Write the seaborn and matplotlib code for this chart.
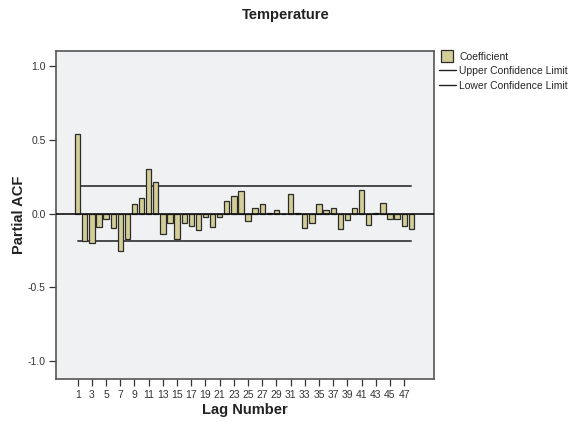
import numpy as np
import pandas as pd
import matplotlib
matplotlib.use("Agg")
import matplotlib.pyplot as plt
from matplotlib.lines import Line2D
import seaborn as sns

# Partial autocorrelation of the temperature series, lags 1..48
lags = list(range(1, 49))
pacf = [0.542, -0.186, -0.197, -0.093, -0.034, -0.095, -0.256, -0.170,
        0.068, 0.109, 0.302, 0.215, -0.138, -0.066, -0.172, -0.061,
        -0.084, -0.111, -0.023, -0.093, -0.023, 0.088, 0.120, 0.152,
        -0.050, 0.039, 0.066, 0.004, 0.025, -0.005, 0.132, 0.004,
        -0.100, -0.063, 0.066, 0.025, 0.039, -0.104, -0.043, 0.039,
        0.161, -0.079, 0.004, 0.075, -0.039, -0.036, -0.084, -0.104]
upper_limit = 0.187
lower_limit = -0.187
xtick_lags = list(range(1, 48, 2))
ytick_vals = [-1.0, -0.5, 0.0, 0.5, 1.0]
ytick_labels = ["-1.0", "-0.5", "0.0", "0.5", "1.0"]

df = pd.DataFrame({"Lag": lags, "PACF": pacf,
                   "Upper": [upper_limit] * len(lags),
                   "Lower": [lower_limit] * len(lags)})

sns.set_theme(style="white")
plt.rcParams["font.family"] = ["Liberation Sans", "DejaVu Sans"]

bar_color = "#D3CE97"
frame_color = "#555555"

fig = plt.figure(figsize=(5.73, 4.22), dpi=100)
ax = fig.add_axes([55.5 / 573, 43 / 422, (434 - 55.5) / 573, (379 - 50.5) / 422])
ax.set_facecolor("#F0F1F3")

sns.barplot(data=df, x="Lag", y="PACF", native_scale=True, width=0.75,
            color=bar_color, saturation=1, edgecolor="#2b2b2b", linewidth=0.9,
            ax=ax, zorder=3)
sns.lineplot(data=df, x="Lag", y="Upper", color="#4a4a4a", linewidth=1.4,
             ax=ax, zorder=2)
sns.lineplot(data=df, x="Lag", y="Lower", color="#4a4a4a", linewidth=1.4,
             ax=ax, zorder=2)
ax.axhline(0, color="#111111", linewidth=1.2, zorder=4)

ax.set_xlim(-2.13, 51.2)
ax.set_ylim(-1.12, 1.105)
ax.set_xticks(xtick_lags)
ax.set_xticklabels([str(v) for v in xtick_lags], fontsize=7.5, color="#333333")
ax.set_yticks(ytick_vals)
ax.set_yticklabels(ytick_labels, fontsize=7.5, color="#333333")
ax.tick_params(axis="both", direction="out", length=5, width=0.9,
               color="#333333", pad=2, bottom=True, left=True)
ax.tick_params(axis="x", pad=3)

for side in ax.spines.values():
    side.set_color(frame_color)
    side.set_linewidth(1.2)

ax.set_xlabel("Lag Number", fontsize=10.5, fontweight="bold", labelpad=2,
              color="#222222")
ax.set_ylabel("Partial ACF", fontsize=10.5, fontweight="bold", labelpad=1,
              color="#222222")
fig.text(285.5 / 573, 1 - 14.5 / 422, "Temperature", ha="center", va="center",
         fontsize=10.5, fontweight="bold", color="#222222")

handles = [Line2D([], [], linestyle="None", marker="s", markersize=8,
                  markerfacecolor=bar_color, markeredgecolor="#2b2b2b",
                  markeredgewidth=0.9),
           Line2D([], [], color="#222222", linewidth=1.0),
           Line2D([], [], color="#222222", linewidth=1.0)]
labels = ["Coefficient", "Upper Confidence Limit", "Lower Confidence Limit"]
fig.legend(handles, labels, loc="upper left",
           bbox_to_anchor=(439 / 573, 1 - 51.5 / 422), frameon=False,
           fontsize=7.5, handlelength=1.6, handleheight=0.9, handletextpad=0.35,
           labelspacing=0.45, borderaxespad=0, borderpad=0)

fig.savefig("out.png", dpi=100)
